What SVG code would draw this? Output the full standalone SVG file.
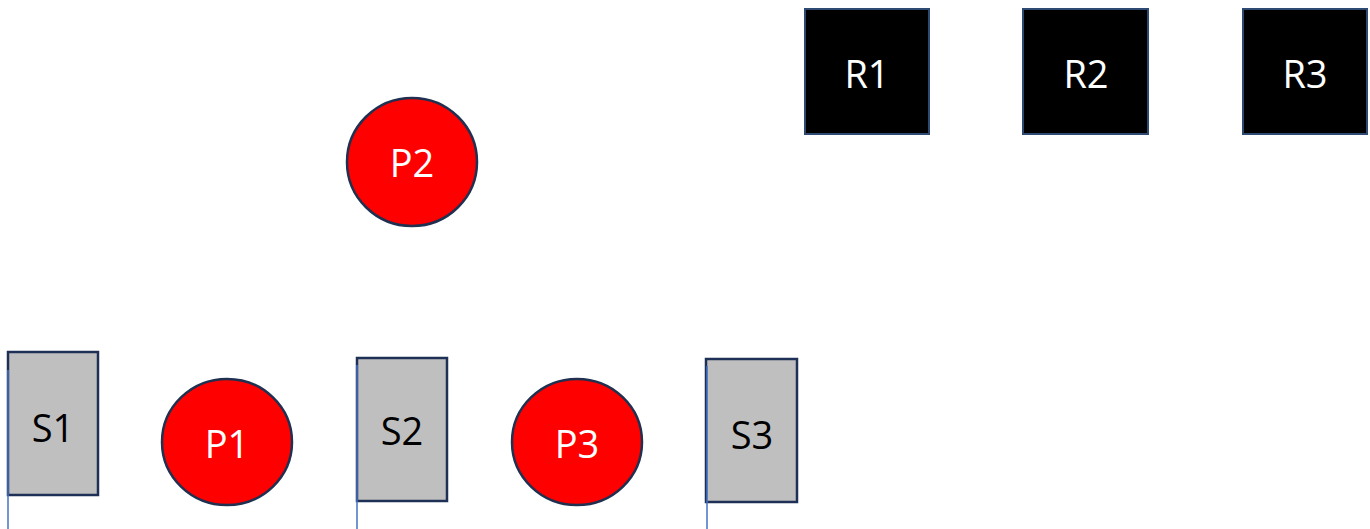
<svg xmlns="http://www.w3.org/2000/svg" width="1370" height="529" viewBox="0 0 1370 529">
<style>
.r{fill:#000;stroke:#2f4a72;stroke-width:2}
.p{fill:#ff0000;stroke:#1f3050;stroke-width:2.5}
.s{fill:#bfbfbf;stroke:#1f3056;stroke-width:2.5}
.t{font-family:"Open Sans","Liberation Sans",sans-serif;font-size:38px;text-anchor:middle;dominant-baseline:central}
.w{fill:#fff}
.k{fill:#000}
.ln{stroke:#4472c4;stroke-width:1.5;fill:none}
</style>
<rect width="1370" height="529" fill="#fff"/>
<g id="R1"><rect class="r" x="805" y="9" width="124" height="125"/><text class="t w" x="867" y="73">R1</text></g>
<g id="R2"><rect class="r" x="1023" y="9" width="125" height="125"/><text class="t w" x="1086" y="73">R2</text></g>
<g id="R3"><rect class="r" x="1243" y="9" width="124" height="125"/><text class="t w" x="1305" y="73">R3</text></g>
<g id="P2"><ellipse class="p" cx="412" cy="162" rx="65" ry="64"/><text class="t w" x="412" y="162">P2</text></g>
<g id="P1"><ellipse class="p" cx="227" cy="442" rx="65" ry="63"/><text class="t w" x="227" y="443">P1</text></g>
<g id="P3"><ellipse class="p" cx="577" cy="442" rx="65" ry="63"/><text class="t w" x="577" y="443">P3</text></g>
<g id="S1"><rect class="s" x="8" y="352" width="90" height="143"/><text class="t k" x="53" y="427">S1</text></g>
<g id="S2"><rect class="s" x="357" y="358" width="90" height="143"/><text class="t k" x="402" y="430">S2</text></g>
<g id="S3"><rect class="s" x="706" y="359" width="91" height="143"/><text class="t k" x="752" y="434">S3</text></g>
<g id="connectors">
<line class="ln" x1="8" y1="370" x2="8" y2="529"/>
<line class="ln" x1="357" y1="365" x2="357" y2="529"/>
<line class="ln" x1="707" y1="366" x2="707" y2="529"/>
</g>
</svg>
